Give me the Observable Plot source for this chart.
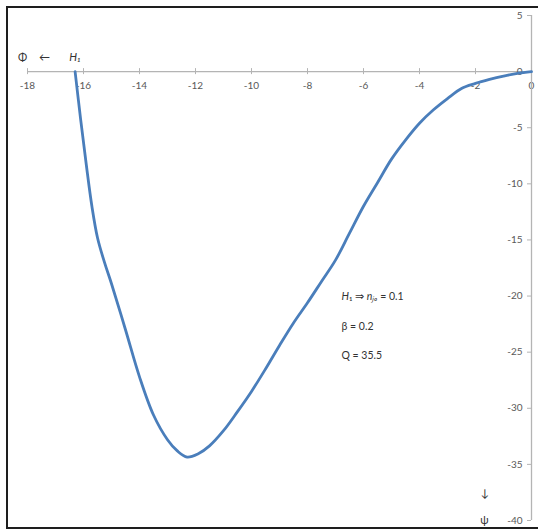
<!DOCTYPE html>
<html>
<head>
<meta charset="utf-8">
<script src="https://cdn.jsdelivr.net/npm/d3@7"></script>
<script src="https://cdn.jsdelivr.net/npm/@observablehq/plot@0.6"></script>
<style>
  body { margin: 0; background: #fff; }
  #wrap { position: relative; width: 538px; height: 530px; overflow: hidden; }
  #wrap svg { position: absolute; left: 0; top: 0; }
  #border { position: absolute; left: 6px; top: 6px; width: 600px; height: 523px;
            border: 2px solid #1e1e1e; box-sizing: border-box; pointer-events: none; }
</style>
</head>
<body>
<div id="wrap"><div id="border"></div></div>
<script>
// Curve: Φ (x) and ψ (y)
const phi = [-16.3, -16.1, -15.9, -15.7, -15.5, -15.25, -15.0, -14.5, -14.0, -13.5, -13.0, -12.65, -12.3, -11.9, -11.5, -11.0, -10.5, -10.0, -9.5, -9.0, -8.5, -8.0, -7.5, -7.0, -6.5, -6.0, -5.5, -5.0, -4.5, -4.0, -3.5, -3.0, -2.5, -2.0, -1.5, -1.0, -0.5, 0];
const psi = [0, -4.3, -8.3, -12.0, -14.8, -17.0, -18.9, -23.0, -27.2, -30.6, -32.8, -33.8, -34.35, -34.05, -33.35, -32.0, -30.3, -28.5, -26.5, -24.4, -22.4, -20.6, -18.7, -16.8, -14.4, -12.0, -9.9, -7.8, -6.1, -4.6, -3.4, -2.4, -1.5, -1.05, -0.7, -0.4, -0.15, 0];

// Tick labels
const xTicks = [-18, -16, -14, -12, -10, -8, -6, -4, -2, 0];
const yTicks = [5, 0, -5, -10, -15, -20, -25, -30, -35, -40];

// Texts
const xAxisName = ["Φ", "←"];
const yAxisName = ["↓", "ψ"];
const pointLabel = "H₁";
const notes = ["H₁ ⇒ nⱼₒ = 0.1", "β = 0.2", "Q = 35.5"];

const data = phi.map((x, i) => ({x, y: psi[i]}));
const axisColor = "#b4b4b4";
const labelColor = "#595959";

const plot = Plot.plot({
  width: 538,
  height: 530,
  marginLeft: 27,
  marginRight: 7,
  marginTop: 15,
  marginBottom: 10,
  x: {domain: [-18, 0], axis: null},
  y: {domain: [-40, 5], axis: null},
  style: {fontFamily: "Lato, 'Open Sans', sans-serif", fontSize: "10px", color: labelColor, background: "transparent"},
  marks: [
    // horizontal axis at ψ = 0
    Plot.ruleY([0], {x1: -18, x2: 0, stroke: axisColor, strokeWidth: 1.3}),
    Plot.ruleX(xTicks, {x: d => d, y1: 0, y2: 0, insetTop: -3, insetBottom: -3, stroke: axisColor}),
    Plot.text(xTicks, {x: d => d, y: 0, dy: 14.5, text: d => String(d), fill: labelColor, fontSize: 10}),
    // vertical axis at Φ = 0
    Plot.ruleX([0], {y1: -40, y2: 5, stroke: axisColor, strokeWidth: 1.3}),
    Plot.ruleY(yTicks, {y: d => d, x1: 0, x2: 0, insetLeft: -4, insetRight: 0, stroke: axisColor}),
    Plot.text(yTicks, {x: 0, y: d => d, dx: -9, textAnchor: "end", text: d => String(d), fill: labelColor, fontSize: 10}),
    // curve
    Plot.line(data, {x: "x", y: "y", curve: "catmull-rom", stroke: "#4a7ebb", strokeWidth: 2.8, strokeLinejoin: "round"}),
    // axis names
    Plot.text([xAxisName[0]], {frameAnchor: "top-left", dx: -5, dy: 42, textAnchor: "middle", lineAnchor: "middle", text: d => d, fill: "#333", fontSize: 11}),
    Plot.text([xAxisName[1]], {frameAnchor: "top-left", dx: 17, dy: 42, textAnchor: "middle", lineAnchor: "middle", text: d => d, fill: "#333", fontSize: 11}),
    Plot.text([pointLabel], {x: phi[0], y: psi[0], dy: -14, textAnchor: "middle", lineAnchor: "middle", text: d => d, fill: "#333", fontSize: 11, fontStyle: "italic"}),
    Plot.text([yAxisName[0]], {frameAnchor: "bottom-right", dx: -47, dy: -27, textAnchor: "middle", lineAnchor: "middle", text: d => d, fill: "#333", fontSize: 11}),
    Plot.text([yAxisName[1]], {frameAnchor: "bottom-right", dx: -47, dy: 0, textAnchor: "middle", lineAnchor: "middle", text: d => d, fill: "#333", fontSize: 11}),
    // notes
    Plot.text([notes.join("\n")], {frameAnchor: "top-left", dx: 314, dy: 264, textAnchor: "start", lineAnchor: "top", lineHeight: 2.8, text: d => d, fill: "#333", fontSize: 10.5})
  ]
});

// italicise variable letters H and n in the first note line
d3.select(plot).selectAll("tspan").each(function () {
  const t = this.textContent;
  if (!t.includes("⇒")) return;
  const sel = d3.select(this);
  sel.text("");
  t.split(/([Hn]|ⱼₒ)/).filter(s => s.length).forEach(s => {
    const sp = sel.append("tspan").text(s);
    if (/^[Hn]$|ⱼₒ/.test(s)) sp.attr("font-style", "italic");
  });
});

document.getElementById("wrap").prepend(plot);
</script>
</body>
</html>
